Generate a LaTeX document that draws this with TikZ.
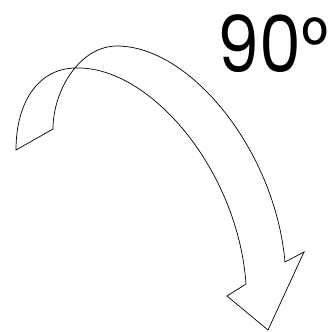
\documentclass[tikz,border=0pt]{standalone}
\usepackage{fontspec}
\newfontfamily\anglefont{Poppins}
\usetikzlibrary{positioning}
\definecolor{RotInk}{HTML}{000000}
\tikzset{
  turnarrow/.style={draw=RotInk, fill=white, line width=0.6pt, line join=miter},
  anglelabel/.style={font=\anglefont\fontsize{67}{67}\selectfont, text=RotInk,
                     inner sep=0pt, xscale=0.85},
}

\begin{document}
\begin{tikzpicture}[x=0.03cm, y=-0.03cm]
  \useasboundingbox (0,0) rectangle (334,331);

  % twisted ribbon arrow, clockwise
  \draw[turnarrow] (16,150)
        .. controls (16,100) and (40,68) .. (76,68)
        .. controls (150,66) and (238,170) .. (246,284)
        -- (227,296) -- (268,330) -- (304,252) -- (285,262)
        .. controls (275,150) and (190,46) .. (117,46)
        .. controls (80,46) and (53,90) .. (53,129)
        -- cycle;

  % angle
  \node[anglelabel, anchor=base east] (angle) at (329,72) {90°};
\end{tikzpicture}
\end{document}
